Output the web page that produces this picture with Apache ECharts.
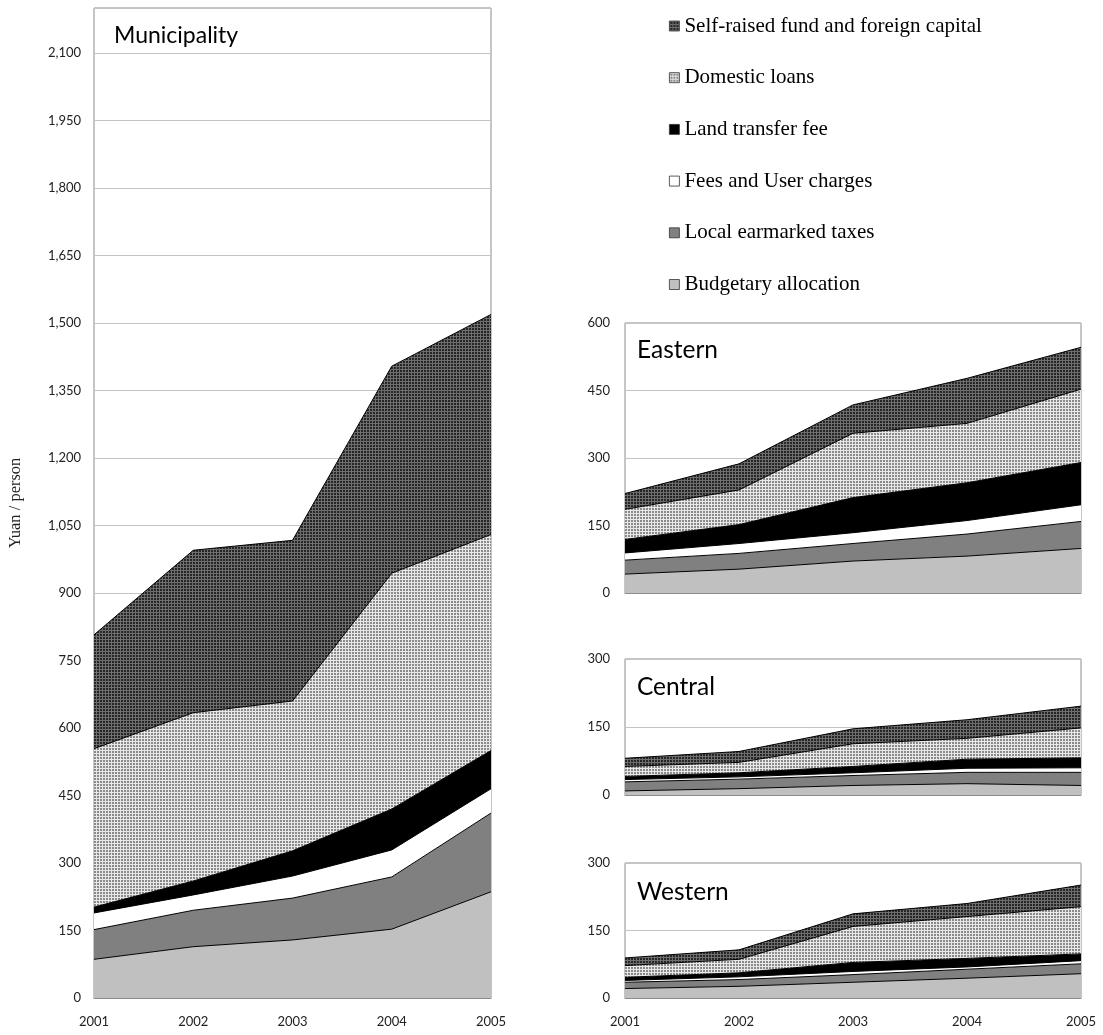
<!DOCTYPE html>
<html>
<head>
<meta charset="utf-8">
<style>
  html, body { margin: 0; padding: 0; background: #fff; }
  #chart { width: 1103px; height: 1035px; }
</style>
<script src="https://cdn.jsdelivr.net/npm/echarts@6/dist/echarts.min.js"></script>
</head>
<body>
<div id="chart"></div>
<script>
// Per-capita infrastructure funding by source, 2001-2005 (yuan / person)
const years = ['2001', '2002', '2003', '2004', '2005'];

// Funding sources, in stacking order (bottom to top)
const sourceNames = [
  'Budgetary allocation',
  'Local earmarked taxes',
  'Fees and User charges',
  'Land transfer fee',
  'Domestic loans',
  'Self-raised fund and foreign capital'
];

// Municipality
const muniBudgetary  = [86, 114, 129, 153, 236];
const muniEarmarked  = [66, 81, 93, 116, 175];
const muniFees       = [37, 34, 49, 60, 54];
const muniLand       = [13, 31, 56, 91, 85];
const muniLoans      = [352, 374, 333, 524, 480];
const muniSelfRaised = [253, 361, 357, 460, 489];

// Eastern
const eastBudgetary  = [42, 53, 71, 82, 99];
const eastEarmarked  = [31, 35, 39, 49, 60];
const eastFees       = [16, 22, 24, 30, 37];
const eastLand       = [30, 42, 78, 84, 94];
const eastLoans      = [67, 77, 143, 132, 163];
const eastSelfRaised = [35, 58, 63, 100, 93];

// Central
const centBudgetary  = [9, 14, 21, 25, 21];
const centEarmarked  = [20, 21, 22, 25, 29];
const centFees       = [5, 5, 6, 9, 10];
const centLand       = [7, 9, 14, 20, 22];
const centLoans      = [22, 23, 50, 46, 66];
const centSelfRaised = [18, 24, 33, 41, 48];

// Western
const westBudgetary  = [21, 26, 35, 44, 54];
const westEarmarked  = [14, 15, 17, 20, 22];
const westFees       = [4, 6, 7, 5, 7];
const westLand       = [7, 9, 20, 19, 15];
const westLoans      = [26, 30, 80, 93, 105];
const westSelfRaised = [17, 21, 28, 29, 48];

// Y-axis tick settings per panel
const muniAxisMax = 2200;
const eastAxisMax = 600;
const smallAxisMax = 300;
const tickStep = 150;

const regions = [
  { title: 'Municipality', data: [muniBudgetary, muniEarmarked, muniFees, muniLand, muniLoans, muniSelfRaised], max: muniAxisMax },
  { title: 'Eastern', data: [eastBudgetary, eastEarmarked, eastFees, eastLand, eastLoans, eastSelfRaised], max: eastAxisMax },
  { title: 'Central', data: [centBudgetary, centEarmarked, centFees, centLand, centLoans, centSelfRaised], max: smallAxisMax },
  { title: 'Western', data: [westBudgetary, westEarmarked, westFees, westLand, westLoans, westSelfRaised], max: smallAxisMax }
];

// Small tiled canvases used as hatched fills
function makePattern(bg, fg) {
  const c = document.createElement('canvas');
  c.width = 3; c.height = 3;
  const ctx = c.getContext('2d');
  ctx.fillStyle = bg;
  ctx.fillRect(0, 0, 3, 3);
  ctx.fillStyle = fg;
  ctx.fillRect(1, 1, 2, 2);
  return { image: c, repeat: 'repeat' };
}
const loansFill = makePattern('#e8e8e8', '#8a8a8a');
const selfRaisedFill = makePattern('#6e6e6e', '#262626');

const fills = ['#c0c0c0', '#808080', '#ffffff', '#000000', loansFill, selfRaisedFill];

// Plot rectangles
const grids = [
  { left: 94, top: 8, width: 397, height: 990 },
  { left: 625, top: 323, width: 456, height: 270 },
  { left: 625, top: 659, width: 456, height: 136 },
  { left: 625, top: 863, width: 456, height: 135 }
];

const labelFont = { fontFamily: 'Lato', fontSize: 13, color: '#222' };

const xAxes = grids.map((g, i) => ({
  type: 'category',
  gridIndex: i,
  data: years,
  boundaryGap: false,
  axisLine: { show: true, lineStyle: { color: '#8c8c8c', width: 1 } },
  axisTick: { show: false },
  axisLabel: Object.assign({ show: i === 0 || i === 3, margin: 17, interval: 0 }, labelFont),
  splitLine: { show: false }
}));

const yAxes = regions.map((r, i) => ({
  type: 'value',
  gridIndex: i,
  min: 0,
  max: r.max,
  interval: tickStep,
  axisLine: { show: false },
  axisTick: { show: false },
  axisLabel: Object.assign({
    margin: i === 0 ? 13 : 15,
    showMaxLabel: i !== 0,
    formatter: v => v.toLocaleString('en-US')
  }, labelFont),
  splitLine: { show: true, lineStyle: { color: '#c4c4c4', width: 1 } },
  name: i === 0 ? 'Yuan / person' : '',
  nameLocation: 'middle',
  nameRotate: 90,
  nameGap: 70,
  nameTextStyle: { fontFamily: 'Liberation Serif', fontSize: 16.5, color: '#222' }
}));

const series = [];
regions.forEach((r, gi) => {
  r.data.forEach((vals, si) => {
    series.push({
      name: sourceNames[si],
      type: 'line',
      xAxisIndex: gi,
      yAxisIndex: gi,
      stack: 'region' + gi,
      data: vals,
      symbol: 'none',
      smooth: false,
      lineStyle: { color: '#000', width: 1 },
      itemStyle: { color: '#000' },
      areaStyle: { color: fills[si], opacity: 1 },
      emphasis: { disabled: true },
      silent: true,
      z: 2
    });
  });
});

const titleStyle = size => ({ fontFamily: 'Lato', fontSize: size, fontWeight: 'normal', color: '#000' });
const titles = [
  { text: 'Municipality', left: 114, top: 24, padding: 0, textStyle: titleStyle(23) },
  { text: 'Eastern', left: 637, top: 338, padding: 0, textStyle: titleStyle(24.5) },
  { text: 'Central', left: 637, top: 675, padding: 0, textStyle: titleStyle(24.5) },
  { text: 'Western', left: 637, top: 880, padding: 0, textStyle: titleStyle(24.5) }
];

const legendData = sourceNames.slice().reverse().map(name => {
  const idx = sourceNames.indexOf(name);
  return {
    name: name,
    itemStyle: { color: fills[idx], borderColor: '#333', borderWidth: 0.8 }
  };
});

const chart = echarts.init(document.getElementById('chart'), null, { renderer: 'canvas' });
chart.setOption({
  animation: false,
  backgroundColor: '#fff',
  title: titles,
  legend: {
    orient: 'vertical',
    left: 669,
    top: 15,
    padding: 0,
    icon: 'rect',
    itemWidth: 10,
    itemHeight: 10,
    itemGap: 29.7,
    selectedMode: false,
    data: legendData,
    textStyle: { fontFamily: 'Liberation Serif', fontSize: 21, color: '#000', lineHeight: 22 }
  },
  grid: grids.map(g => Object.assign({}, g, { show: true, borderColor: '#8c8c8c', borderWidth: 1, backgroundColor: 'transparent', containLabel: false })),
  xAxis: xAxes,
  yAxis: yAxes,
  series: series
});
</script>
</body>
</html>
